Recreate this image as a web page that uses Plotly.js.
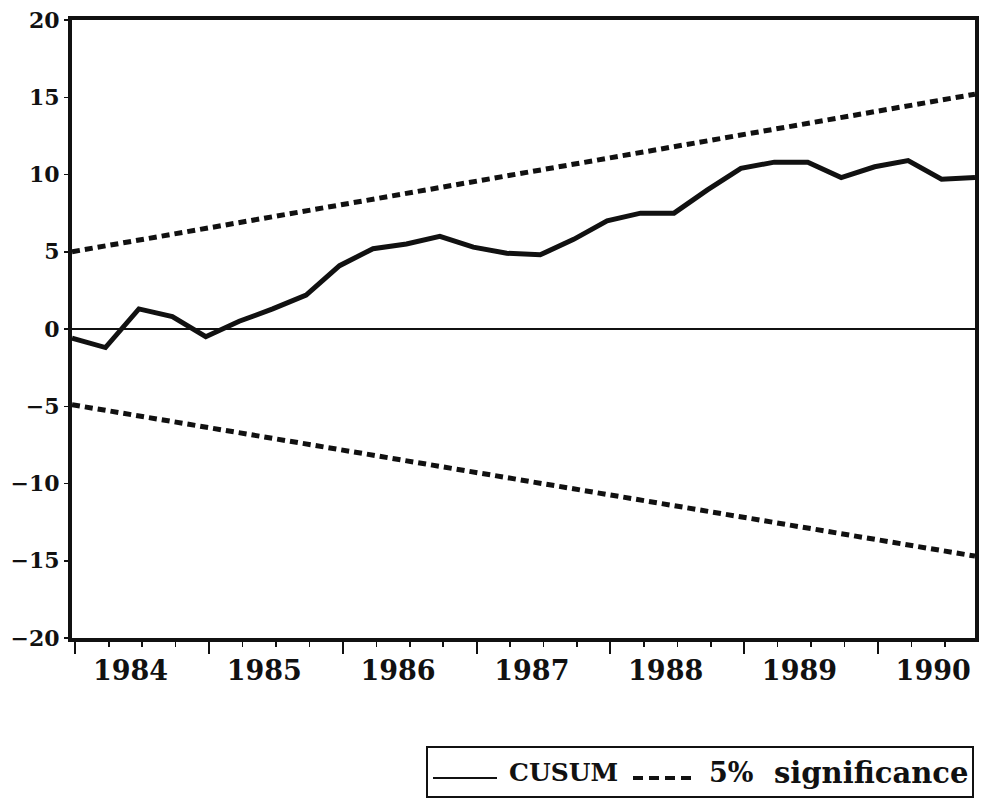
<!DOCTYPE html>
<html>
<head>
<meta charset="utf-8">
<script src="https://cdn.plot.ly/plotly-3.0.1.min.js"></script>
<style>
  html, body { margin: 0; padding: 0; background: #fff; }
  #chart { width: 982px; height: 803px; }
</style>
</head>
<body>
<div id="chart"></div>
<script>
// quarterly observations, 1984Q1 .. 1990Q4
const quarters = [
  "1984Q1","1984Q2","1984Q3","1984Q4",
  "1985Q1","1985Q2","1985Q3","1985Q4",
  "1986Q1","1986Q2","1986Q3","1986Q4",
  "1987Q1","1987Q2","1987Q3","1987Q4",
  "1988Q1","1988Q2","1988Q3","1988Q4",
  "1989Q1","1989Q2","1989Q3","1989Q4",
  "1990Q1","1990Q2","1990Q3","1990Q4"
];
const cusum = [
  -0.6, -1.2, 1.3, 0.8,
  -0.5, 0.5, 1.3, 2.2,
  4.1, 5.2, 5.5, 6.0,
  5.3, 4.9, 4.8, 5.8,
  7.0, 7.5, 7.5, 9.0,
  10.4, 10.8, 10.8, 9.8,
  10.5, 10.9, 9.7, 9.8
];
// 5% significance bounds (straight lines), first and last quarter
const upperBound = [5.0, 15.2];
const lowerBound = [-4.9, -14.7];
const yearLabels = ["1984","1985","1986","1987","1988","1989","1990"];

const xIdx = quarters.map((q, i) => i);
const boundX = [0, quarters.length - 1];
const yearTicks = yearLabels.map((y, i) => 4 * i + 0.1);
const yearLabelPos = yearLabels.map((y, i) => 4 * i + 1.75);

// plot area in pixels, used to place the hand drawn legend
const W = 982, H = 803;
const M = { l: 72, r: 7, t: 20, b: 165 };
const px = x => (x - M.l) / (W - M.l - M.r);
const py = y => (H - M.b - y) / (H - M.t - M.b);

const FONT = "DejaVu Serif";
const INK = "#111";

const traces = [
  {
    x: xIdx, y: cusum, xaxis: "x", yaxis: "y",
    type: "scatter", mode: "lines",
    line: { color: INK, width: 5 },
    name: "CUSUM", showlegend: false
  },
  {
    x: boundX, y: upperBound, xaxis: "x2", yaxis: "y",
    type: "scatter", mode: "lines",
    line: { color: INK, width: 5, dash: "8px,5px" },
    name: "5% significance", showlegend: false
  },
  {
    x: boundX, y: lowerBound, xaxis: "x2", yaxis: "y",
    type: "scatter", mode: "lines",
    line: { color: INK, width: 5, dash: "8px,5px" },
    showlegend: false
  }
];

const legendText = (txt, left, size) => ({
  text: txt, xref: "paper", yref: "paper", x: px(left), y: py(773),
  xanchor: "left", yanchor: "middle", showarrow: false,
  font: { family: FONT, size: size, color: INK, weight: "bold" }
});

const layout = {
  width: W, height: H,
  margin: M,
  paper_bgcolor: "#fff",
  plot_bgcolor: "#fff",
  font: { family: FONT, color: INK },
  showlegend: false,
  xaxis: {
    range: [0, quarters.length - 1],
    showline: true, mirror: true, linewidth: 4, linecolor: INK,
    showgrid: false, zeroline: false,
    tickmode: "array", tickvals: yearTicks,
    ticks: "outside", ticklen: 12, tickwidth: 2, tickcolor: INK,
    showticklabels: false,
    minor: { tick0: 0.1, dtick: 1, ticks: "outside", ticklen: 5, tickwidth: 1.5, tickcolor: INK }
  },
  xaxis2: {
    overlaying: "x", anchor: "y", side: "bottom",
    range: [0, quarters.length - 1],
    showline: false, showgrid: false, zeroline: false,
    tickmode: "array", tickvals: yearLabelPos, ticktext: yearLabels,
    ticks: "", ticklabelstandoff: 14,
    tickfont: { family: FONT, size: 27, color: INK, weight: "bold" }
  },
  yaxis: {
    range: [-20, 20],
    showline: true, mirror: true, linewidth: 4, linecolor: INK,
    showgrid: false,
    zeroline: true, zerolinecolor: INK, zerolinewidth: 1.5,
    tickmode: "linear", tick0: -20, dtick: 5,
    ticks: "outside", ticklen: 4, tickwidth: 1.5, tickcolor: INK,
    tickfont: { family: FONT, size: 22, color: INK, weight: "bold" }
  },
  shapes: [
    { type: "rect", xref: "paper", yref: "paper",
      x0: px(427), x1: px(973), y0: py(747), y1: py(797),
      line: { color: INK, width: 2 }, fillcolor: "rgba(0,0,0,0)" },
    { type: "line", xref: "paper", yref: "paper",
      x0: px(433), x1: px(497), y0: py(778), y1: py(778),
      line: { color: INK, width: 2 } },
    { type: "line", xref: "paper", yref: "paper",
      x0: px(633), x1: px(693), y0: py(778), y1: py(778),
      line: { color: INK, width: 4, dash: "10px,6px" } }
  ],
  annotations: [
    legendText("CUSUM", 507, 25),
    legendText("5%", 707, 27),
    legendText("significance", 772, 29)
  ]
};

Plotly.newPlot("chart", traces, layout, { staticPlot: true, displayModeBar: false });
</script>
</body>
</html>
